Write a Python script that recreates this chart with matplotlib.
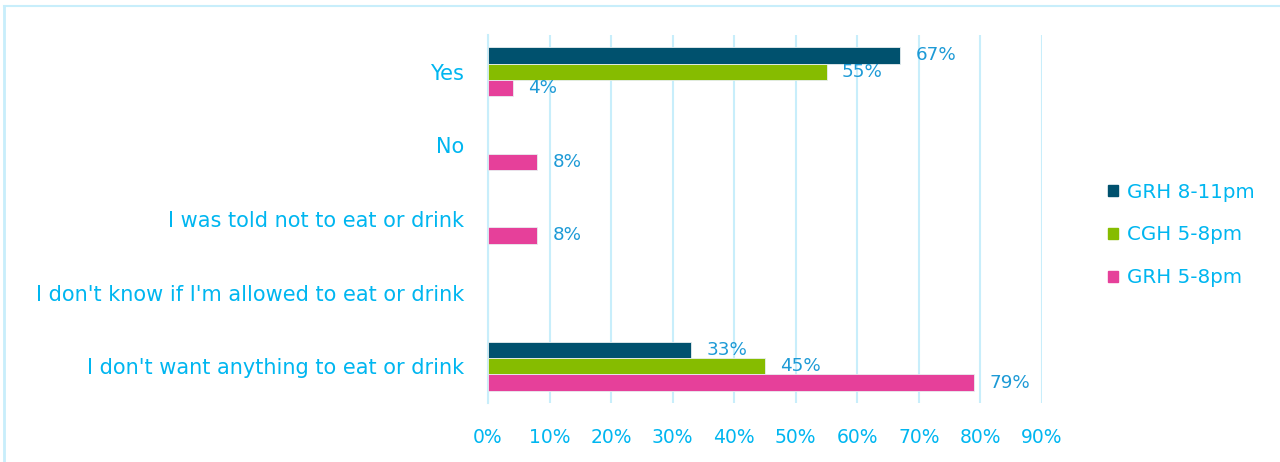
import matplotlib.pyplot as plt
import matplotlib.patches as mpatches
import numpy as np

categories = [
    "Yes",
    "No",
    "I was told not to eat or drink",
    "I don't know if I'm allowed to eat or drink",
    "I don't want anything to eat or drink",
]
series_names = ["GRH 8-11pm", "CGH 5-8pm", "GRH 5-8pm"]
grh_late = [0.67, None, None, None, 0.33]
cgh_early = [0.55, None, None, None, 0.45]
grh_early = [0.04, 0.08, 0.08, None, 0.79]
x_ticks = [0, 0.1, 0.2, 0.3, 0.4, 0.5, 0.6, 0.7, 0.8, 0.9]

colors = ["#00516e", "#86bc00", "#e6409a"]
cat_color = "#00b6f0"
val_color = "#1d9ad6"
grid_color = "#c8eefb"

plt.rcParams['font.family'] = ['DejaVu Sans']

fig = plt.figure(figsize=(12.8, 4.62), dpi=100)
ax = fig.add_axes([0.38125, 0.1277, 0.8141 - 0.38125, 0.9242 - 0.1277])

# outer frame, only top and left edges visible
fig.add_artist(plt.Line2D([4 / 1280, 1], [1 - 6 / 462, 1 - 6 / 462],
                          color=grid_color, lw=1.5, transform=fig.transFigure))
fig.add_artist(plt.Line2D([4 / 1280, 4 / 1280], [0, 1 - 6 / 462],
                          color=grid_color, lw=2, transform=fig.transFigure))

y = np.arange(len(categories))
h = 0.222
offsets = [-h, 0, h]

for vals, off, col in zip([grh_late, cgh_early, grh_early], offsets, colors):
    for i, v in enumerate(vals):
        if v is None:
            continue
        ax.barh(y[i] + off, v, height=h, color=col, edgecolor="#e8eef0",
                linewidth=0.6, zorder=3)
        ax.text(v + 0.025, y[i] + off, f"{v * 100:.0f}%", color=val_color,
                fontsize=13.2, va="center", ha="left", zorder=4)

ax.set_ylim(len(categories) - 0.5, -0.5)
ax.set_xlim(0, 0.9)
ax.set_yticks(y)
ax.set_yticklabels(categories, fontsize=15, color=cat_color)
ax.set_xticks(x_ticks)
ax.set_xticklabels([f"{t * 100:.0f}%" for t in x_ticks], fontsize=13.5,
                   color=cat_color)
ax.tick_params(axis="y", length=0, pad=17)
ax.tick_params(axis="x", length=0, pad=18)

ax.grid(axis="x", color=grid_color, lw=1.5, zorder=0)
for s in ["top", "right", "bottom"]:
    ax.spines[s].set_visible(False)
ax.spines["left"].set_color(grid_color)
ax.spines["left"].set_linewidth(1.5)

handles = [mpatches.Patch(color=c, label=n) for c, n in zip(colors, series_names)]
leg = fig.legend(handles=handles, loc="center left",
                 bbox_to_anchor=(1090 / 1280, 1 - 235 / 462), frameon=False,
                 fontsize=14.3, handlelength=0.5, handleheight=0.5,
                 handletextpad=0.45, labelspacing=1.2)
for t in leg.get_texts():
    t.set_color(cat_color)

fig.savefig("out.png", dpi=100)
